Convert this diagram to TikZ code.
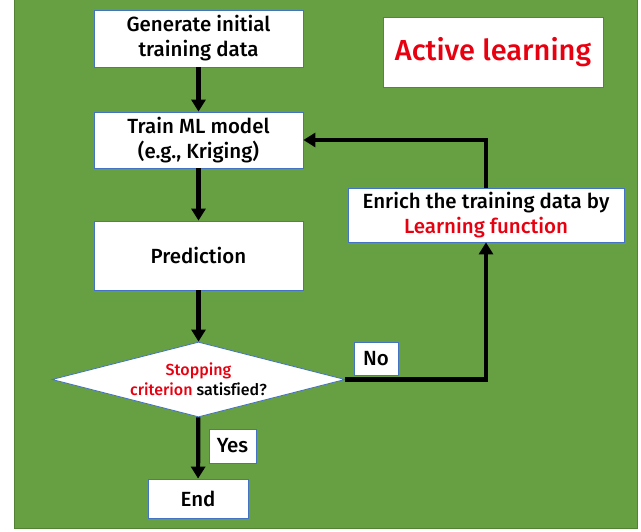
\documentclass[tikz,border=0pt]{standalone}
\usepackage{fontspec}
\setmainfont{Fira Sans}[UprightFont=* Medium, Ligatures=CommonOff]
\usetikzlibrary{shapes.geometric,arrows.meta}
\definecolor{bggreen}{RGB}{103,160,66}
\definecolor{edgegreen}{RGB}{84,130,53}
\definecolor{boxblue}{RGB}{68,114,196}
\definecolor{txtred}{RGB}{232,0,16}
\tikzset{
  box/.style={draw=boxblue, line width=0.8pt, fill=white, inner sep=0pt, align=center, font=\fontsize{20.5}{25}\selectfont},
  flow/.style={line width=4.2pt, -{Triangle[length=12pt,width=14pt]}},
}
\begin{document}
\begin{tikzpicture}[x=1pt,y=-1pt]
\useasboundingbox (0,0) rectangle (641,532);
\fill[white] (0,0) rectangle (641,532);
\draw[fill=bggreen, draw=edgegreen, line width=1pt] (14,0) rectangle (637,528);

\node[box, minimum width=209pt, minimum height=57pt] (gen) at (198.5,38.5) {Generate initial\\training data};
\node[box, minimum width=209pt, minimum height=56pt] (train) at (198.5,140) {Train ML model\\(e.g., Kriging)};
\node[box, minimum width=209pt, minimum height=69pt] (pred) at (198.5,255.5) {Prediction};
\node[box, diamond, minimum width=293pt, minimum height=75pt] (dec) at (198.5,379.5) {};
\node[align=center, inner sep=0pt, font=\fontsize{16}{20}\selectfont] (dectext) at (dec.center) {\textcolor{txtred}{Stopping}\\\textcolor{txtred}{criterion} satisfied?};
\node[box, minimum width=100pt, minimum height=39pt] (end) at (198,498.5) {End};
\node[box, minimum width=47pt, minimum height=34pt] (yes) at (232.5,446) {Yes};
\node[box, minimum width=44pt, minimum height=33pt] (no) at (376,358.5) {No};
\node[box, minimum width=220pt, minimum height=70pt, font=\fontsize{29}{32}\selectfont, text=txtred] (active) at (493,52) {Active learning};
\node[box, minimum width=276pt, minimum height=54pt] (enrich) at (486,215) {Enrich the training data by\\\textcolor{txtred}{Learning function}};

\draw[flow] (gen) -- (train);
\draw[flow] (train) -- (pred);
\draw[flow] (pred) -- (dec);
\draw[flow] (dec) -- (end);
\draw[flow] (dec.east) -| (enrich.south);
\draw[flow] (enrich.north) |- (train.east);
\end{tikzpicture}
\end{document}
